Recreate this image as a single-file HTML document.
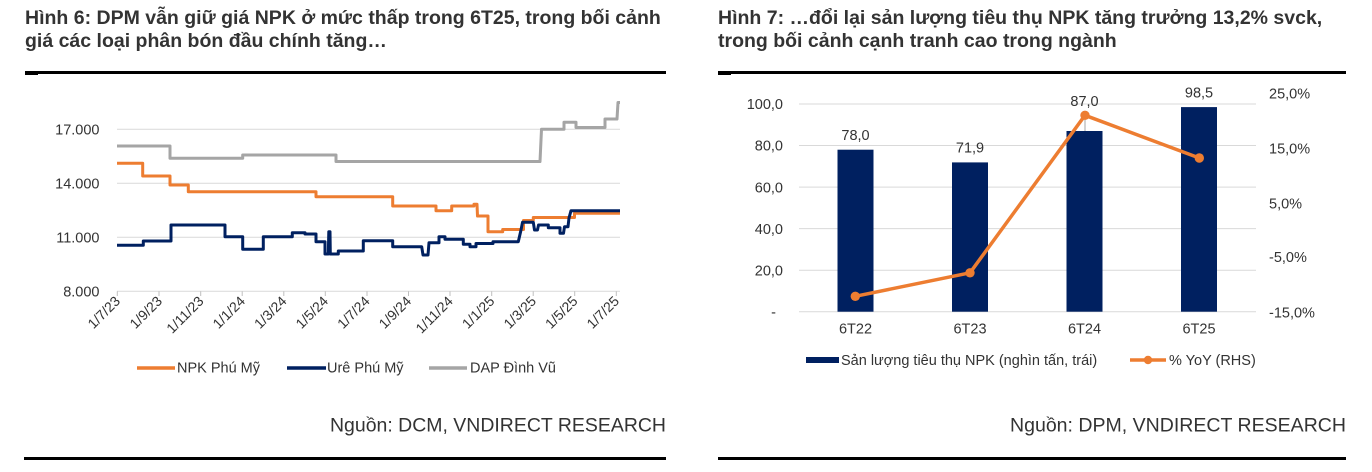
<!DOCTYPE html>
<html><head><meta charset="utf-8">
<style>
html,body{margin:0;padding:0;background:#fff;}
svg{display:block;}
text{font-family:"Liberation Sans",Arial,sans-serif;}
</style></head>
<body>
<svg width="1372" height="472" viewBox="0 0 1372 472" xmlns="http://www.w3.org/2000/svg">
<rect width="1372" height="472" fill="#fff"/>

<!-- ===== LEFT PANEL ===== -->
<text x="25" y="24" font-size="19.5" font-weight="bold" fill="#333">Hình 6: DPM vẫn giữ giá NPK ở mức thấp trong 6T25, trong bối cảnh</text>
<text x="25" y="47" font-size="19.5" font-weight="bold" fill="#333">giá các loại phân bón đầu chính tăng…</text>
<rect x="25" y="71" width="641" height="3" fill="#000"/>
<rect x="25" y="71" width="13" height="4" fill="#000"/>

<!-- gridlines -->
<g stroke="#d9d9d9" stroke-width="1">
<line x1="117" y1="129.3" x2="620" y2="129.3"/>
<line x1="117" y1="183.3" x2="620" y2="183.3"/>
<line x1="117" y1="237.3" x2="620" y2="237.3"/>
<line x1="117" y1="291.3" x2="620" y2="291.3"/>
</g>
<g stroke="#bfbfbf" stroke-width="1">
<line x1="117.3" y1="291.3" x2="117.3" y2="296"/>
<line x1="159" y1="291.3" x2="159" y2="296"/>
<line x1="200.7" y1="291.3" x2="200.7" y2="296"/>
<line x1="242.2" y1="291.3" x2="242.2" y2="296"/>
<line x1="283.8" y1="291.3" x2="283.8" y2="296"/>
<line x1="325.3" y1="291.3" x2="325.3" y2="296"/>
<line x1="367" y1="291.3" x2="367" y2="296"/>
<line x1="408.5" y1="291.3" x2="408.5" y2="296"/>
<line x1="450" y1="291.3" x2="450" y2="296"/>
<line x1="491.7" y1="291.3" x2="491.7" y2="296"/>
<line x1="533.2" y1="291.3" x2="533.2" y2="296"/>
<line x1="574.7" y1="291.3" x2="574.7" y2="296"/>
<line x1="616.3" y1="291.3" x2="616.3" y2="296"/>
</g>
<g font-size="14.5" fill="#333" text-anchor="end">
<text x="99.5" y="134.5">17.000</text>
<text x="99.5" y="188.5">14.000</text>
<text x="99.5" y="242.5">11.000</text>
<text x="99.5" y="296.5">8.000</text>
</g>
<g font-size="14" fill="#333" text-anchor="end">
<text transform="translate(121,302) rotate(-45)">1/7/23</text>
<text transform="translate(163,302) rotate(-45)">1/9/23</text>
<text transform="translate(204.5,302) rotate(-45)">1/11/23</text>
<text transform="translate(246,302) rotate(-45)">1/1/24</text>
<text transform="translate(287.5,302) rotate(-45)">1/3/24</text>
<text transform="translate(329,302) rotate(-45)">1/5/24</text>
<text transform="translate(370.7,302) rotate(-45)">1/7/24</text>
<text transform="translate(412.2,302) rotate(-45)">1/9/24</text>
<text transform="translate(453.8,302) rotate(-45)">1/11/24</text>
<text transform="translate(495.4,302) rotate(-45)">1/1/25</text>
<text transform="translate(537,302) rotate(-45)">1/3/25</text>
<text transform="translate(578.5,302) rotate(-45)">1/5/25</text>
<text transform="translate(620,302) rotate(-45)">1/7/25</text>
</g>

<!-- series -->
<polyline fill="none" stroke="#a5a5a5" stroke-width="3" stroke-linejoin="round"
points="117,146 170,146 170,158.3 242.7,158.3 242.7,155 336,155 336,161.5 540,161.5 541.5,129.3 564,129.3 564,122.3 576,122.3 576,127.5 605,127.5 605,119 617,119 618,102.5 620,102.5"/>
<polyline fill="none" stroke="#ed7d31" stroke-width="3" stroke-linejoin="round"
points="117,163.3 142.7,163.3 142.7,176 170,176 170,185 188.3,185 188.3,191.7 316,191.7 316,196.7 392.7,196.7 392.7,206 436,206 436,210.7 451.7,210.7 451.7,206 474,206 474,204.3 477,204.3 477.5,216 488,216 488,231.7 502.7,231.7 502.7,229.5 523.5,229.5 523.5,220.5 533.3,220.5 533.3,217.5 574.5,217.5 574.5,213.3 620,213.3"/>
<polyline fill="none" stroke="#002060" stroke-width="3" stroke-linejoin="round"
points="117,245.3 143.3,245.3 143.3,241 171,241 171,225 225,225 225,236.7 242.7,236.7 242.7,249.3 263.3,249.3 263.3,236.7 292.3,236.7 292.3,232.7 305,232.7 305,234 316,234 316,241.7 325,241.7 325,254 328.3,254 328.8,231.7 330,231.7 330.3,254 338.3,254 338.3,251 363.3,251 363.3,240.7 392.7,240.7 392.7,246.7 421.7,246.7 423,255 428,255 429,242.7 439,242.7 439,236.7 445,236.7 445,239.3 463.3,239.3 463.3,244.3 470,244.3 470,246.7 476,246.7 476,243.5 493,243.5 493,241.7 518.3,241.7 521,230 522.5,222.3 533.3,222.3 534.5,230 537.5,230 538.5,225 548.3,225 548.3,227.7 560,227.7 560,233.3 563.5,233.3 564.5,226.7 568,226.7 569,218 571,210.7 620,210.7"/>

<!-- legend -->
<line x1="137" y1="368" x2="175" y2="368" stroke="#ed7d31" stroke-width="3.5"/>
<text x="177" y="372.5" font-size="14.5" fill="#333">NPK Phú Mỹ</text>
<line x1="287" y1="368" x2="326" y2="368" stroke="#002060" stroke-width="3.5"/>
<text x="327" y="372.5" font-size="14.5" fill="#333">Urê Phú Mỹ</text>
<line x1="429" y1="368" x2="467" y2="368" stroke="#a5a5a5" stroke-width="3.5"/>
<text x="470" y="372.5" font-size="14.5" fill="#333">DAP Đình Vũ</text>

<text x="330" y="431.5" font-size="19.5" fill="#333" textLength="336" lengthAdjust="spacingAndGlyphs">Nguồn: DCM, VNDIRECT RESEARCH</text>
<rect x="24" y="457" width="642" height="3" fill="#000"/>

<!-- ===== RIGHT PANEL ===== -->
<text x="718" y="24" font-size="19.5" font-weight="bold" fill="#333">Hình 7: …đổi lại sản lượng tiêu thụ NPK tăng trưởng 13,2% svck,</text>
<text x="718" y="47" font-size="19.5" font-weight="bold" fill="#333">trong bối cảnh cạnh tranh cao trong ngành</text>
<rect x="718" y="71" width="628" height="3" fill="#000"/>
<rect x="718" y="71" width="13" height="4" fill="#000"/>

<g stroke="#d9d9d9" stroke-width="1">
<line x1="799" y1="104" x2="1256" y2="104"/>
<line x1="799" y1="145.5" x2="1256" y2="145.5"/>
<line x1="799" y1="187.1" x2="1256" y2="187.1"/>
<line x1="799" y1="228.6" x2="1256" y2="228.6"/>
<line x1="799" y1="270.2" x2="1256" y2="270.2"/>
<line x1="799" y1="311.7" x2="1256" y2="311.7"/>
</g>
<g fill="#002060">
<rect x="837.5" y="149.7" width="36" height="162"/>
<rect x="952" y="162.4" width="36" height="149.3"/>
<rect x="1066.5" y="131" width="36" height="180.7"/>
<rect x="1181" y="107.1" width="36" height="204.6"/>
</g>
<line x1="1085" y1="115" x2="1085" y2="131" stroke="#a6a6a6" stroke-width="1"/>
<polyline fill="none" stroke="#ed7d31" stroke-width="3.5" stroke-linejoin="round"
points="855.3,296.3 970,272.8 1085,115.3 1199.3,158"/>
<g fill="#ed7d31">
<circle cx="855.3" cy="296.3" r="4.7"/>
<circle cx="970" cy="272.8" r="4.7"/>
<circle cx="1085" cy="115.3" r="4.7"/>
<circle cx="1199.3" cy="158" r="4.7"/>
</g>
<g font-size="14.5" fill="#333" text-anchor="middle">
<text x="855.5" y="140">78,0</text>
<text x="970" y="152.7">71,9</text>
<text x="1084.5" y="106">87,0</text>
<text x="1199" y="97.5">98,5</text>
<text x="855.5" y="333.5">6T22</text>
<text x="970" y="333.5">6T23</text>
<text x="1084.5" y="333.5">6T24</text>
<text x="1199" y="333.5">6T25</text>
</g>
<g font-size="14.5" fill="#333" text-anchor="end">
<text x="783" y="109.2">100,0</text>
<text x="783" y="150.7">80,0</text>
<text x="783" y="192.3">60,0</text>
<text x="783" y="233.8">40,0</text>
<text x="783" y="275.4">20,0</text>
<text x="776" y="316.9">-</text>
</g>
<g font-size="14.5" fill="#333">
<text x="1269" y="98.5">25,0%</text>
<text x="1269" y="153.3">15,0%</text>
<text x="1269" y="208.3">5,0%</text>
<text x="1269" y="262">-5,0%</text>
<text x="1269" y="317.5">-15,0%</text>
</g>

<!-- legend -->
<rect x="806" y="357" width="33" height="6" fill="#002060"/>
<text x="841" y="365" font-size="14.5" fill="#333">Sản lượng tiêu thụ NPK (nghìn tấn, trái)</text>
<line x1="1130" y1="360" x2="1166" y2="360" stroke="#ed7d31" stroke-width="3.5"/>
<circle cx="1148" cy="360" r="4.2" fill="#ed7d31"/>
<text x="1169" y="365" font-size="14.5" fill="#333">% YoY (RHS)</text>

<text x="1010" y="431.5" font-size="19.5" fill="#333" textLength="336" lengthAdjust="spacingAndGlyphs">Nguồn: DPM, VNDIRECT RESEARCH</text>
<rect x="718" y="457" width="628" height="3" fill="#000"/>
</svg>
</body></html>
